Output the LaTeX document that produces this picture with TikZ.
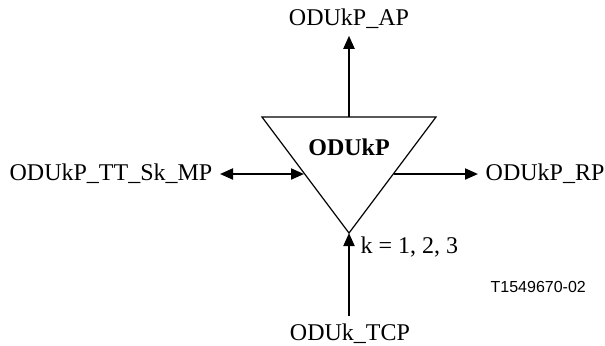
\documentclass[tikz,border=0pt]{standalone}
\usepackage{fontspec}
\setmainfont{Liberation Serif}
\setsansfont{Liberation Sans}
\usepackage{tikz}
\usetikzlibrary{arrows.meta}

\begin{document}
\begin{tikzpicture}[>={Triangle[length=6.5pt,width=5.5pt]}, x=0.5pt, y=-0.5pt, line width=1pt,
	lbl/.style={font=\fontsize{12}{14}\selectfont},
	nr/.style={font=\sffamily\fontsize{8}{9.5}\selectfont}]

	\useasboundingbox (0,0) rectangle (605,345);

	% Dreieck
	\coordinate (tl) at (262,117);
	\coordinate (tr) at (436,117);
	\coordinate (apex) at (349,233);
	\coordinate (topmid) at (349,117);
	\coordinate (inl) at (304,174);
	\coordinate (inr) at (394,174);
	\draw[line width=0.6pt] (tl) -- (tr) -- (apex) -- cycle;
	\node[lbl, anchor=base] (odu) at (349,155) {\textbf{ODUkP}};

	\node[lbl, anchor=base] (ap) at (349,25) {ODUkP\_AP};
	\node[lbl, anchor=base east] (tt) at (220,180) {ODUkP\_TT\_Sk\_MP};
	\node[lbl, anchor=base west] (rp) at (478,180) {ODUkP\_RP};
	\node[lbl, anchor=base] (tcp) at (350,340) {ODUk\_TCP};
	\node[lbl, anchor=base west] (kk) at (353,253) {k = 1, 2, 3};
	\node[nr, anchor=base west] (nr) at (483,292) {T1549670-02};

	\draw[->] (topmid) -- (topmid |- ap.south);
	\draw[<->] (inl -| tt.east) -- (inl);
	\draw[->] (inr) -- (inr -| rp.west);
	\draw[->] (apex |- tcp.north) -- (apex);

\end{tikzpicture}
\end{document}
